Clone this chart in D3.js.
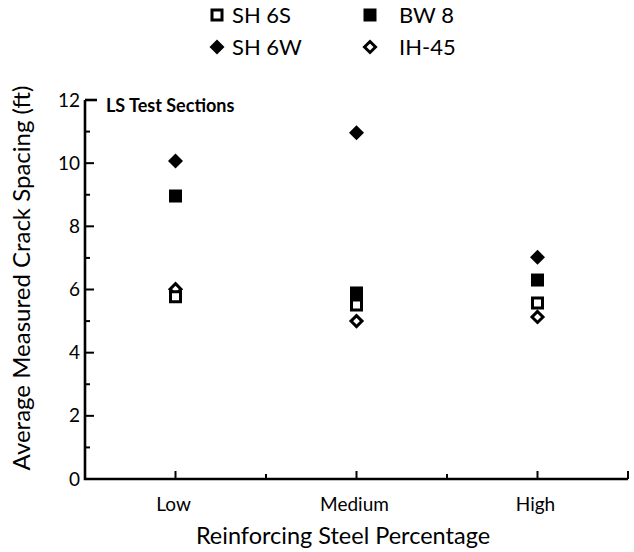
<!DOCTYPE html>
<html><head><meta charset="utf-8">
<script src="https://cdn.jsdelivr.net/npm/d3@7"></script>
<style>body{margin:0;background:#fff}svg{display:block}text{font-family:Lato,"Noto Sans",sans-serif;fill:#000}</style>
</head><body><svg id="c" width="634" height="552"></svg>
<script>
const categories = ["Low", "Medium", "High"];
const seriesNames = ["SH 6S", "BW 8", "SH 6W", "IH-45"];
const sh6s = [5.77, 5.51, 5.57];
const bw8 = [8.96, 5.89, 6.30];
const sh6w = [10.07, 10.96, 7.02];
const ih45 = [6.01, 5.00, 5.13];
const yTicks = [0, 2, 4, 6, 8, 10, 12];

const svg = d3.select("#c");
const x = d3.scaleLinear().domain([-0.5, 2.5]).range([85, 628]);
const y = d3.scaleLinear().domain([0, 12]).range([479, 100]);

svg.append("path").attr("d", `M${x(-0.5)},${y(12)}V${y(0)}H${x(2.5)}`)
  .attr("fill", "none").attr("stroke", "#000").attr("stroke-width", 2.6);
svg.append("line").attr("x1", x(-0.5)).attr("x2", x(-0.5) + 12).attr("y1", y(12)).attr("y2", y(12))
  .attr("stroke", "#000").attr("stroke-width", 2.6);

const yMinor = d3.range(1, 12, 2);
const g = svg.append("g");
g.selectAll(".ymaj").data(yTicks.filter(d => d < 12)).join("line").attr("class", "ymaj")
  .attr("x1", x(-0.5)).attr("x2", x(-0.5) + 9).attr("y1", d => y(d)).attr("y2", d => y(d))
  .attr("stroke", "#000").attr("stroke-width", 2);
g.selectAll(".ymin").data(yMinor).join("line").attr("class", "ymin")
  .attr("x1", x(-0.5)).attr("x2", x(-0.5) + 5).attr("y1", d => y(d)).attr("y2", d => y(d))
  .attr("stroke", "#000").attr("stroke-width", 2);
g.selectAll(".ylab").data(yTicks).join("text").attr("class", "ylab")
  .attr("x", 80).attr("y", d => y(d)).attr("dy", "0.35em").attr("text-anchor", "end")
  .attr("font-size", 19).text(d => d);

g.selectAll(".xmaj").data([0, 1, 2, 2.5]).join("line").attr("class", "xmaj")
  .attr("x1", d => x(d)).attr("x2", d => x(d)).attr("y1", y(0)).attr("y2", y(0) - 8)
  .attr("stroke", "#000").attr("stroke-width", 2);
g.selectAll(".xmin").data([0.5, 1.5]).join("line").attr("class", "xmin")
  .attr("x1", d => x(d)).attr("x2", d => x(d)).attr("y1", y(0)).attr("y2", y(0) - 5)
  .attr("stroke", "#000").attr("stroke-width", 2);
g.selectAll(".xlab").data(categories).join("text").attr("class", "xlab")
  .attr("x", (d, i) => x(i) - 2).attr("y", 504).attr("dy", "0.35em").attr("text-anchor", "middle")
  .attr("font-size", 19).text(d => d);

svg.append("text").attr("x", 343).attr("y", 536).attr("dy", "0.35em").attr("text-anchor", "middle")
  .attr("font-size", 23.5).text("Reinforcing Steel Percentage");
svg.append("text").attr("transform", "translate(22,278) rotate(-90)").attr("dy", "0.35em")
  .attr("text-anchor", "middle").attr("font-size", 24).text("Average Measured Crack Spacing (ft)");
svg.append("text").attr("x", 106).attr("y", 106).attr("dy", "0.35em").attr("font-size", 18)
  .attr("font-weight", "bold").text("LS Test Sections");

// marker shapes
const square = h => `M${-h},${-h}H${h}V${h}H${-h}Z`;
const diamond = h => `M0,${-h}L${h},0L0,${h}L${-h},0Z`;
const styles = [
  {vals: sh6s, sym: square(5), fill: "#fff", stroke: "#000", sw: 3},
  {vals: bw8, sym: square(6.5), fill: "#000", stroke: "none", sw: 0},
  {vals: sh6w, sym: diamond(7.5), fill: "#000", stroke: "none", sw: 0},
  {vals: ih45, sym: diamond(5.5), fill: "#fff", stroke: "#000", sw: 3}
];
[1, 2, 3, 0].forEach(k => {
  const s = styles[k];
  svg.append("g").selectAll("path").data(s.vals).join("path")
    .attr("d", s.sym).attr("transform", (d, i) => `translate(${x(i)},${y(d)})`)
    .attr("fill", s.fill).attr("stroke", s.stroke).attr("stroke-width", s.sw);
});

const legPos = [[217, 15], [370, 15], [217, 47], [370, 47]];
const lg = svg.append("g");
seriesNames.forEach((n, k) => {
  const s = styles[k], p = legPos[k];
  lg.append("path").attr("d", s.sym).attr("transform", `translate(${p[0]},${p[1]})`)
    .attr("fill", s.fill).attr("stroke", s.stroke).attr("stroke-width", s.sw);
  lg.append("text").attr("x", k % 2 === 0 ? 232 : 399).attr("y", p[1]).attr("dy", "0.35em")
    .attr("font-size", 22).text(n);
});
</script></body></html>
